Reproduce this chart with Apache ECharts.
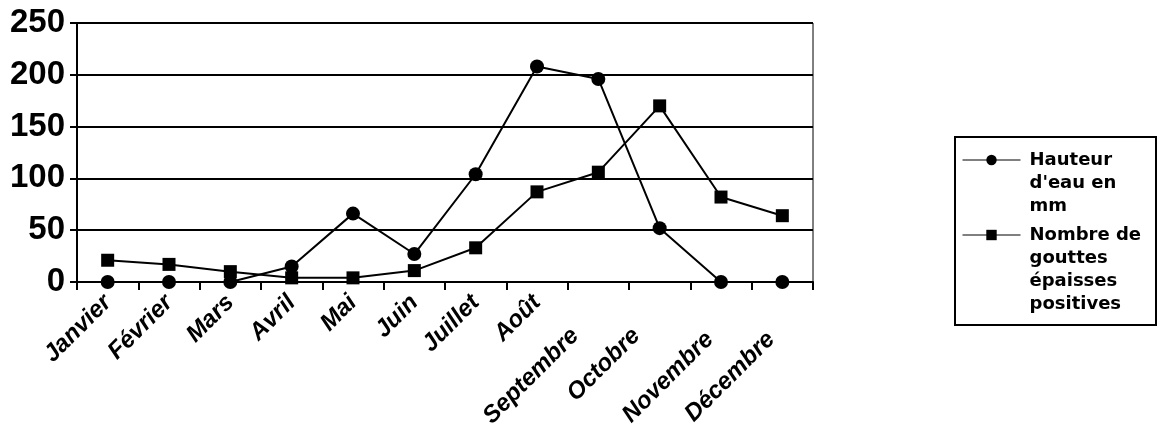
<!DOCTYPE html>
<html><head><meta charset="utf-8">
<script src="https://cdn.jsdelivr.net/npm/echarts@6/dist/echarts.min.js"></script>
<style>html,body{margin:0;padding:0;background:#fff}#c{width:1158px;height:438px}</style>
</head><body><div id="c"></div>
<script>
const categories = ['Janvier','Février','Mars','Avril','Mai','Juin','Juillet','Août','Septembre','Octobre','Novembre','Décembre'];
const hauteur = [0, 0, 0, 15, 66, 27, 104, 208, 196, 52, 0, 0];
const gouttes = [21, 17, 10, 4, 4, 11, 33, 87, 106, 170, 82, 64];
const yTicks = [0, 50, 100, 150, 200, 250];
const seriesNames = ["Hauteur d'eau en mm", 'Nombre de gouttes épaisses positives'];
const legendLines = [['Hauteur', "d'eau en", 'mm'], ['Nombre de', 'gouttes', 'épaisses', 'positives']];

const chart = echarts.init(document.getElementById('c'), null, {renderer: 'canvas'});
const font = '"Liberation Sans", Arial, sans-serif';
const LH = 23;
function legendFmt(name) {
  const idx = seriesNames.indexOf(name);
  const lines = legendLines[idx];
  const pre = new Array(lines.length - 1).fill('');
  return pre.concat(lines).join('\n');
}
function legendTop(firstLineY, nLines) {
  return firstLineY - (2 * nLines - 1) * LH / 2;
}
const legendCommon = {
  orient: 'vertical', left: 962, padding: 0, itemWidth: 58, itemHeight: 13,
  selectedMode: false, formatter: legendFmt,
  lineStyle: {width: 1, color: '#000'},
  textStyle: {fontFamily: '"DejaVu Sans", sans-serif', fontWeight: 'bold', fontSize: 18, color: '#000', lineHeight: LH, padding: [0, 0, 0, 4]}
};
const labelStyle = {fontFamily: font, fontWeight: 'bold', fontStyle: 'italic', fontSize: 24, color: '#000'};
function labelKey(i) { return i >= 10 ? 'n' : (i >= 8 ? 's' : 'a'); }
chart.setOption({
  animation: false,
  backgroundColor: '#fff',
  grid: {left: 77, top: 23, right: 345, bottom: 156, show: true, borderColor: '#000', borderWidth: 1},
  legend: [
    Object.assign({}, legendCommon, {data: [seriesNames[0]], top: legendTop(160, 3)}),
    Object.assign({}, legendCommon, {data: [seriesNames[1]], top: legendTop(235, 4)})
  ],
  graphic: [{type: 'rect', shape: {x: 955, y: 137, width: 201, height: 188}, style: {fill: 'none', stroke: '#000', lineWidth: 2}}],
  xAxis: {
    type: 'category', data: categories, boundaryGap: true,
    axisLine: {lineStyle: {color: '#000', width: 2}},
    axisTick: {show: true, interval: 0, length: 8, inside: false, lineStyle: {color: '#000', width: 2}},
    axisLabel: {
      interval: 0, rotate: 45, margin: 17,
      formatter: function (v, i) { return '{' + labelKey(i) + '|' + v + '}'; },
      rich: {
        a: Object.assign({}, labelStyle),
        s: Object.assign({}, labelStyle, {padding: [14, 40, 0, 0]}),
        n: Object.assign({}, labelStyle, {padding: [36, 34, 0, 0]})
      }
    }
  },
  yAxis: {
    type: 'value', min: yTicks[0], max: yTicks[yTicks.length-1], interval: 50,
    axisLine: {show: true, lineStyle: {color: '#000', width: 2}},
    axisTick: {show: true, length: 7, lineStyle: {color: '#000', width: 2}},
    axisLabel: {margin: 12, fontFamily: font, fontWeight: 'bold', fontSize: 33, color: '#000'},
    splitLine: {show: true, lineStyle: {color: '#000', width: 2}}
  },
  series: [
    {name: seriesNames[0], type: 'line', data: hauteur, symbol: 'circle', symbolSize: 14,
     lineStyle: {color: '#000', width: 2}, itemStyle: {color: '#000'}},
    {name: seriesNames[1], type: 'line', data: gouttes, symbol: 'rect', symbolSize: 13,
     lineStyle: {color: '#000', width: 2}, itemStyle: {color: '#000'}}
  ]
});
</script></body></html>
